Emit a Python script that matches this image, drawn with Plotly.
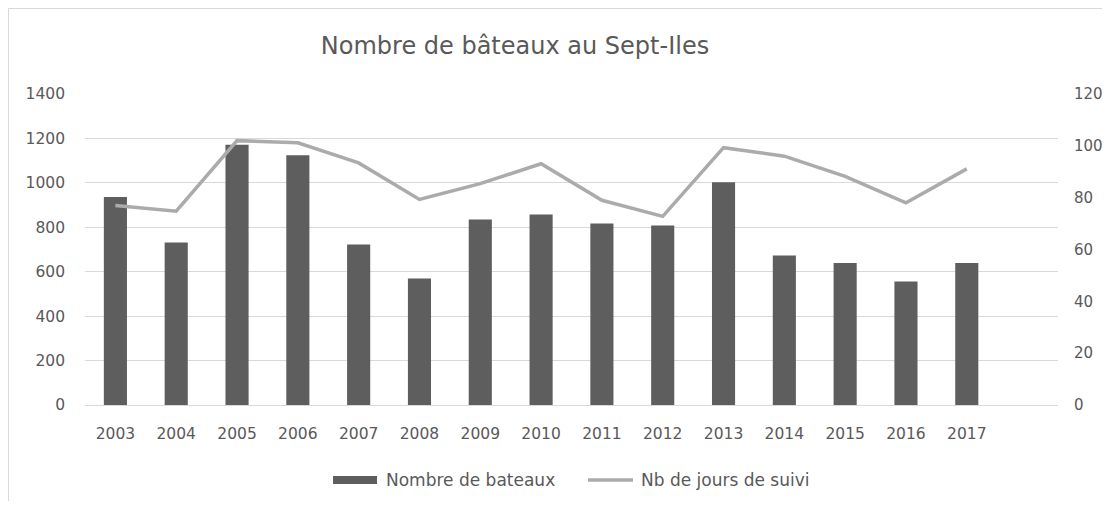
import plotly.graph_objects as go

years = ["2003", "2004", "2005", "2006", "2007", "2008", "2009", "2010",
         "2011", "2012", "2013", "2014", "2015", "2016", "2017"]
nb_bateaux = [936, 731, 1172, 1124, 723, 569, 835, 857, 817, 808, 1003, 673, 639, 556, 639]
nb_jours = [77, 74.8, 102, 101.2, 93.4, 79.3, 85.4, 93.1, 79, 72.8, 99.3, 96, 88.2, 78, 91.1]

left_ticks = [0, 200, 400, 600, 800, 1000, 1200, 1400]
right_ticks = [0, 20, 40, 60, 80, 100, 120]

FONT = "DejaVu Sans"
TXT = "#595959"
BAR_C = "#5e5e5e"
LINE_C = "#ababab"
TICK_SIZE = 15.5

# page body has an 8px margin: figure is placed at (8, 8)
W, H = 1094, 493
PL, PT, PW, PH = 77, 86, 973, 311


def xp(sx):  # screen x -> paper x
    return (sx - 8 - PL) / PW


def yp(sy):  # screen y -> paper y
    return (PT + PH - (sy - 8)) / PH


fig = go.Figure()
fig.add_trace(go.Bar(
    x=years, y=nb_bateaux, name="Nombre de bateaux",
    marker=dict(color=BAR_C, line=dict(width=0)), width=0.38, showlegend=False,
))
fig.add_trace(go.Scatter(
    x=years, y=nb_jours, name="Nb de jours de suivi", yaxis="y2",
    mode="lines", line=dict(color=LINE_C, width=3.5), showlegend=False,
))

shapes = [
    # chart border
    dict(type="rect", xref="paper", yref="paper",
         x0=xp(8.5), x1=xp(1125), y0=yp(530), y1=yp(8.5),
         line=dict(color="#d9d9d9", width=1), fillcolor="rgba(0,0,0,0)", layer="below"),
    # legend symbols
    dict(type="rect", xref="paper", yref="paper",
         x0=xp(333), x1=xp(377), y0=yp(484), y1=yp(476),
         line=dict(width=0), fillcolor=BAR_C),
    dict(type="line", xref="paper", yref="paper",
         x0=xp(588), x1=xp(633), y0=yp(480), y1=yp(480),
         line=dict(color=LINE_C, width=3.5)),
]
annotations = [
    dict(text="Nombre de bateaux", xref="paper", yref="paper", x=xp(384), y=yp(480),
         xanchor="left", yanchor="middle", showarrow=False,
         font=dict(family=FONT, size=17, color=TXT)),
    dict(text="Nb de jours de suivi", xref="paper", yref="paper", x=xp(639), y=yp(480),
         xanchor="left", yanchor="middle", showarrow=False,
         font=dict(family=FONT, size=17, color=TXT)),
]

fig.update_layout(
    width=W, height=H,
    margin=dict(l=PL, r=W - PL - PW, t=PT, b=H - PT - PH),
    paper_bgcolor="white", plot_bgcolor="white",
    font=dict(family=FONT, size=TICK_SIZE, color=TXT),
    title=dict(text="Nombre de bâteaux au Sept-Iles", x=(515 - 8) / W, xref="container",
               xanchor="center", y=1 - (46 - 8) / H, yref="container", yanchor="middle",
               font=dict(family=FONT, size=24, color=TXT)),
    xaxis=dict(type="category", categoryorder="array", categoryarray=years,
               range=[-0.5, 15.5], showgrid=False, showline=True, automargin=False,
               linecolor="#d9d9d9", linewidth=1, ticks="", ticklabelstandoff=14,
               tickfont=dict(size=TICK_SIZE, color=TXT)),
    yaxis=dict(range=[0, 1400], tickvals=left_ticks, showgrid=True, automargin=False,
               gridcolor="#d9d9d9", gridwidth=1, zeroline=False, ticks="",
               ticklabelstandoff=19, tickfont=dict(size=TICK_SIZE, color=TXT)),
    yaxis2=dict(range=[0, 120], tickvals=right_ticks, overlaying="y", side="right",
                showgrid=False, zeroline=False, ticks="", ticklabelstandoff=15,
                automargin=False, tickfont=dict(size=15, color=TXT)),
    showlegend=False,
    shapes=shapes,
    annotations=annotations,
)

fig.write_html("out.html")
